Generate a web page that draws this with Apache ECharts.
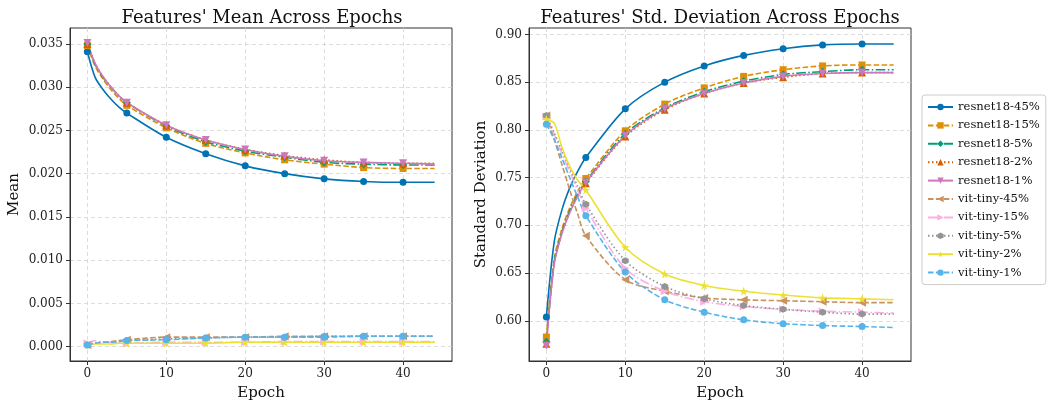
<!DOCTYPE html>
<html>
<head>
<meta charset="utf-8">
<script src="https://cdn.jsdelivr.net/npm/echarts@6/dist/echarts.min.js"></script>
<style>
  html, body { margin: 0; padding: 0; background: #fff; }
  #chart { width: 1047px; height: 406px; }
</style>
</head>
<body>
<div id="chart"></div>
<script>
var EPOCHS = [0, 1, 2, 3, 4, 5, 10, 15, 20, 25, 30, 35, 40, 44];

var NAMES = ['resnet18-45%', 'resnet18-15%', 'resnet18-5%', 'resnet18-2%', 'resnet18-1%',
  'vit-tiny-45%', 'vit-tiny-15%', 'vit-tiny-5%', 'vit-tiny-2%', 'vit-tiny-1%'];

// features' mean
var meanR45 = [0.0341, 0.0311, 0.0297, 0.0286, 0.0277, 0.0270, 0.0242, 0.0223, 0.0209, 0.0200, 0.0194, 0.0191, 0.0190, 0.0190];
var meanR15 = [0.0348, 0.0324, 0.0309, 0.0297, 0.0287, 0.0279, 0.0253, 0.0235, 0.0224, 0.0216, 0.0211, 0.0207, 0.0206, 0.0206];
var meanR5  = [0.0350, 0.0326, 0.0311, 0.0300, 0.0290, 0.0282, 0.0255, 0.0237, 0.0226, 0.0219, 0.0213, 0.0211, 0.0210, 0.0210];
var meanR2  = [0.0350, 0.0327, 0.0312, 0.0300, 0.0290, 0.0282, 0.0256, 0.0239, 0.0228, 0.0221, 0.0216, 0.0213, 0.0212, 0.0212];
var meanR1  = [0.0351, 0.0327, 0.0312, 0.0300, 0.0290, 0.0282, 0.0256, 0.0239, 0.0228, 0.0220, 0.0215, 0.0213, 0.0212, 0.0211];
var meanV45 = [0.0002, 0.0004, 0.0005, 0.0006, 0.0007, 0.0008, 0.0011, 0.0011, 0.0011, 0.0012, 0.0012, 0.0012, 0.0012, 0.0012];
var meanV15 = [0.0004, 0.0007, 0.0005, 0.0005, 0.0004, 0.0004, 0.0005, 0.0005, 0.0005, 0.0006, 0.0006, 0.0006, 0.0006, 0.0006];
var meanV5  = [0.0002, 0.0004, 0.0005, 0.0005, 0.0006, 0.0007, 0.0009, 0.0010, 0.0011, 0.0011, 0.0012, 0.0012, 0.0012, 0.0012];
var meanV2  = [0.0002, 0.0003, 0.0003, 0.0003, 0.0004, 0.0004, 0.0004, 0.0004, 0.0005, 0.0005, 0.0005, 0.0005, 0.0005, 0.0005];
var meanV1  = [0.0002, 0.0004, 0.0005, 0.0005, 0.0006, 0.0007, 0.0008, 0.0010, 0.0011, 0.0011, 0.0011, 0.0012, 0.0012, 0.0012];

// features' std. deviation
var stdR45 = [0.604, 0.683, 0.717, 0.740, 0.757, 0.771, 0.822, 0.850, 0.867, 0.878, 0.885, 0.889, 0.890, 0.890];
var stdR15 = [0.583, 0.665, 0.697, 0.719, 0.736, 0.749, 0.799, 0.827, 0.844, 0.856, 0.863, 0.867, 0.868, 0.868];
var stdR5  = [0.578, 0.662, 0.694, 0.716, 0.733, 0.746, 0.796, 0.823, 0.840, 0.851, 0.858, 0.861, 0.863, 0.863];
var stdR2  = [0.576, 0.660, 0.692, 0.714, 0.731, 0.744, 0.793, 0.821, 0.838, 0.849, 0.855, 0.859, 0.860, 0.860];
var stdR1  = [0.574, 0.660, 0.692, 0.714, 0.731, 0.745, 0.794, 0.822, 0.838, 0.849, 0.856, 0.859, 0.860, 0.860];
var stdV45 = [0.815, 0.790, 0.763, 0.736, 0.711, 0.689, 0.643, 0.631, 0.624, 0.622, 0.621, 0.620, 0.619, 0.619];
var stdV15 = [0.814, 0.795, 0.775, 0.755, 0.736, 0.718, 0.655, 0.631, 0.620, 0.615, 0.612, 0.610, 0.609, 0.608];
var stdV5  = [0.815, 0.797, 0.778, 0.759, 0.740, 0.722, 0.663, 0.636, 0.623, 0.616, 0.612, 0.609, 0.607, 0.607];
var stdV2  = [0.811, 0.807, 0.781, 0.761, 0.747, 0.737, 0.677, 0.649, 0.637, 0.631, 0.627, 0.624, 0.623, 0.622];
var stdV1  = [0.806, 0.790, 0.770, 0.749, 0.729, 0.710, 0.651, 0.622, 0.609, 0.601, 0.597, 0.595, 0.594, 0.593];

var MEAN = [meanR45, meanR15, meanR5, meanR2, meanR1, meanV45, meanV15, meanV5, meanV2, meanV1];
var STD = [stdR45, stdR15, stdR5, stdR2, stdR1, stdV45, stdV15, stdV5, stdV2, stdV1];

// line / marker styles (matplotlib-ish)
var DASH = [5.5, 2.4];
var DASHDOT = [9.6, 2.4, 1.5, 2.4];
var DOT = [1.5, 2.5];
var TRI_DOWN = 'path://M0,0 L10,0 L5,10 Z';
var TRI_LEFT = 'path://M0,5 L10,0 L10,10 Z';
var TRI_RIGHT = 'path://M0,0 L10,5 L0,10 Z';
var HEX = 'path://M5,0 L9.33,2.5 L9.33,7.5 L5,10 L0.67,7.5 L0.67,2.5 Z';
var STAR = 'path://M5,0 L6.2,3.6 L10,3.6 L6.9,5.8 L8.1,9.5 L5,7.2 L1.9,9.5 L3.1,5.8 L0,3.6 L3.8,3.6 Z';
var STYLES = [
  { color: '#0173b2', type: 'solid', symbol: 'circle', size: 7 },
  { color: '#de8f05', type: DASH, symbol: 'rect', size: 7 },
  { color: '#029e73', type: DASHDOT, symbol: 'diamond', size: 8 },
  { color: '#d55e00', type: DOT, symbol: 'triangle', size: 8 },
  { color: '#cc78bc', type: 'solid', symbol: TRI_DOWN, size: 8 },
  { color: '#ca9161', type: DASH, symbol: TRI_LEFT, size: 8 },
  { color: '#fbafe4', type: DASHDOT, symbol: TRI_RIGHT, size: 8 },
  { color: '#949494', type: DOT, symbol: HEX, size: 7 },
  { color: '#ece133', type: 'solid', symbol: STAR, size: 9 },
  { color: '#56b4e9', type: DASH, symbol: 'circle', size: 7 }
];

var FONT = 'DejaVu Serif';
var GRIDLINE = { show: true, showMinLine: false, showMaxLine: false,
  lineStyle: { color: '#d4d4d4', type: [4, 3], width: 0.8 } };

function makeSeries(vals, i, axisIdx) {
  var st = STYLES[i];
  return {
    name: NAMES[i],
    type: 'line',
    xAxisIndex: axisIdx,
    yAxisIndex: axisIdx,
    smooth: 0.3,
    symbol: st.symbol,
    symbolSize: st.size,
    showSymbol: true,
    color: st.color,
    lineStyle: { color: st.color, width: 1.6, type: st.type },
    itemStyle: { color: st.color },
    emphasis: { disabled: true },
    data: EPOCHS.map(function (e, k) {
      return { value: [e, vals[k]], symbol: e % 5 === 0 ? st.symbol : 'none' };
    })
  };
}

function xAxis(idx) {
  return {
    type: 'value', gridIndex: idx, min: -2.2, max: 46.2, splitNumber: 5,
    name: 'Epoch', nameLocation: 'middle', nameGap: 25,
    nameTextStyle: { fontFamily: FONT, fontSize: 15, color: '#111' },
    axisLine: { show: true, onZero: false, lineStyle: { color: '#333', width: 1 } },
    axisTick: { show: true, length: 4, lineStyle: { color: '#333' } },
    axisLabel: { fontFamily: FONT, fontSize: 12, color: '#222', margin: 7, showMinLabel: false, showMaxLabel: false },
    splitLine: GRIDLINE
  };
}

function yAxis(idx, min, max, n, name, gap, dec) {
  return {
    type: 'value', gridIndex: idx, min: min, max: max, splitNumber: n,
    name: name, nameLocation: 'middle', nameGap: gap,
    nameTextStyle: { fontFamily: FONT, fontSize: 15, color: '#111' },
    axisLine: { show: true, onZero: false, lineStyle: { color: '#333', width: 1 } },
    axisTick: { show: true, length: 4, lineStyle: { color: '#333' } },
    axisLabel: { fontFamily: FONT, fontSize: 12, color: '#222', margin: 7, showMinLabel: false, showMaxLabel: false,
      formatter: function (v) { return v.toFixed(dec); } },
    splitLine: GRIDLINE
  };
}

var chart = echarts.init(document.getElementById('chart'), null, { renderer: 'canvas' });
var series = [];
MEAN.forEach(function (v, i) { series.push(makeSeries(v, i, 0)); });
STD.forEach(function (v, i) { series.push(makeSeries(v, i, 1)); });

var option = {
  animation: false,
  backgroundColor: '#fff',
  title: [
    { text: "Features' Mean Across Epochs", left: 257, top: 4, textAlign: 'center',
      textStyle: { fontFamily: FONT, fontSize: 18, fontWeight: 'normal', color: '#111' } },
    { text: "Features' Std. Deviation Across Epochs", left: 715, top: 4, textAlign: 'center',
      textStyle: { fontFamily: FONT, fontSize: 18, fontWeight: 'normal', color: '#111' } }
  ],
  grid: [
    { left: 70, top: 28, width: 382, height: 334.5, show: true, borderColor: '#333', borderWidth: 1 },
    { left: 529, top: 28, width: 382, height: 334.5, show: true, borderColor: '#333', borderWidth: 1 }
  ],
  legend: {
    data: NAMES,
    orient: 'vertical',
    left: 922, top: 95,
    itemWidth: 25, itemHeight: 8, itemGap: 6.4,
    padding: [6, 6, 6, 5],
    borderColor: '#ccc', borderWidth: 1, borderRadius: 3,
    backgroundColor: '#fff',
    textStyle: { fontFamily: FONT, fontSize: 11.6, color: '#111' }
  },
  xAxis: [xAxis(0), xAxis(1)],
  yAxis: [
    yAxis(0, -0.00166, 0.03684, 8, 'Mean', 48, 3),
    yAxis(1, 0.5579, 0.9067, 7, 'Standard Deviation', 40, 2)
  ],
  series: series
};
chart.setOption(option);
</script>
</body>
</html>
